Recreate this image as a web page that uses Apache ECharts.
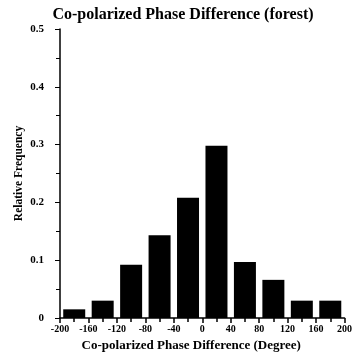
<!DOCTYPE html>
<html>
<head>
<meta charset="utf-8">
<script src="https://cdn.jsdelivr.net/npm/echarts@6/dist/echarts.min.js"></script>
<style>
  html, body { margin: 0; padding: 0; background: #fff; }
  #chart { width: 355px; height: 363px; }
</style>
</head>
<body>
<div id="chart"></div>
<script>
// Bin centres (degrees) and relative frequency per 40-degree bin
const binCenters = [-180, -140, -100, -60, -20, 20, 60, 100, 140, 180];
const relFreq = [0.015, 0.03, 0.092, 0.143, 0.208, 0.298, 0.097, 0.066, 0.03, 0.03];

const font = "Liberation Serif";
const chart = echarts.init(document.getElementById("chart"), null, { renderer: "canvas" });

chart.setOption({
  animation: false,
  backgroundColor: "#fff",
  title: {
    text: "Co-polarized Phase Difference (forest)",
    left: 178,
    textAlign: "center",
    top: 2,
    textStyle: { fontFamily: font, fontWeight: "bold", fontSize: 16, color: "#000" },
  },
  grid: { left: 60, right: 7, top: 29, bottom: 45 },
  xAxis: {
    type: "value",
    min: -200,
    max: 200,
    interval: 40,
    name: "Co-polarized Phase Difference (Degree)",
    nameLocation: "center",
    nameGap: 17,
    nameTextStyle: { fontFamily: font, fontWeight: "bold", fontSize: 13, color: "#000", padding: [0, 22, 0, 0] },
    axisLine: { lineStyle: { color: "#000", width: 1.5 } },
    axisTick: { length: 5, lineStyle: { color: "#000", width: 1.5 } },
    minorTick: { show: true, splitNumber: 2, length: 4, lineStyle: { color: "#000", width: 1.5 } },
    axisLabel: { fontFamily: font, fontWeight: "bold", fontSize: 10, color: "#000", margin: 6 },
    splitLine: { show: false },
  },
  yAxis: {
    type: "value",
    min: 0,
    max: 0.5,
    interval: 0.1,
    name: "Relative Frequency",
    nameLocation: "center",
    nameGap: 35,
    nameMoveOverlap: false,
    nameTextStyle: { fontFamily: font, fontWeight: "bold", fontSize: 11.5, color: "#000" },
    axisLine: { show: true, onZero: false, lineStyle: { color: "#000", width: 1.5 } },
    axisTick: { show: true, length: 5, lineStyle: { color: "#000", width: 1 } },
    minorTick: { show: true, splitNumber: 2, length: 4, lineStyle: { color: "#000", width: 1 } },
    axisLabel: { fontFamily: font, fontWeight: "bold", fontSize: 11, color: "#000", margin: 16 },
    splitLine: { show: false },
  },
  series: [
    {
      type: "bar",
      data: binCenters.map((c, i) => [c, relFreq[i]]),
      barWidth: 22,
      itemStyle: { color: "#000" },
    },
  ],
});
</script>
</body>
</html>
